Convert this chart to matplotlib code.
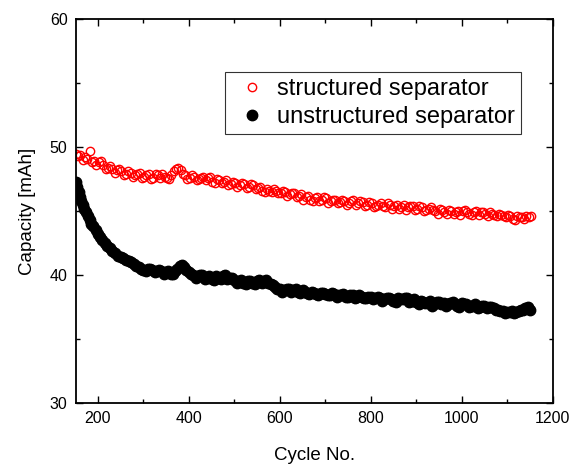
import matplotlib
matplotlib.use('Agg')
import matplotlib.pyplot as plt
import numpy as np
from matplotlib.ticker import MultipleLocator

plt.rcParams['font.family'] = ['Liberation Sans', 'DejaVu Sans']

# structured separator (open red circles)
cyc_struct = [152, 162, 172, 182, 192, 202, 212, 222, 232, 242,
              252, 262, 272, 282, 292, 302, 312, 322, 332, 342,
              352, 362, 372, 382, 392, 402, 412, 422, 432, 442,
              452, 462, 472, 482, 492, 502, 512, 522, 532, 542,
              552, 562, 572, 582, 592, 602, 612, 622, 632, 642,
              652, 662, 672, 682, 692, 702, 712, 722, 732, 742,
              752, 762, 772, 782, 792, 802, 812, 822, 832, 842,
              852, 862, 872, 882, 892, 902, 912, 922, 932, 942,
              952, 962, 972, 982, 992, 1002, 1012, 1022, 1032, 1042,
              1052, 1062, 1072, 1082, 1092, 1102, 1112, 1122, 1132, 1142,
              1152]
cap_struct = [49.5, 49.4, 49.2, 49.7, 48.9, 48.8, 48.6, 48.4, 48.3, 48.2,
              48.1, 47.9, 48.0, 47.8, 48.0, 47.7, 47.9, 47.6, 47.8, 47.9,
              47.6, 47.8, 48.3, 48.2, 47.8, 47.6, 47.7, 47.5, 47.7, 47.6,
              47.3, 47.5, 47.2, 47.4, 47.1, 47.2, 47.0, 47.1, 46.9, 47.0,
              46.8, 46.6, 46.7, 46.5, 46.6, 46.4, 46.5, 46.3, 46.4, 46.2,
              45.9, 46.2, 45.8, 46.1, 45.9, 46.0, 45.8, 45.9, 45.7, 45.8,
              45.6, 45.9, 45.6, 45.7, 45.5, 45.6, 45.4, 45.6, 45.3, 45.5,
              45.4, 45.2, 45.5, 45.3, 45.4, 45.2, 45.3, 45.1, 45.3, 45.0,
              45.2, 44.9, 45.1, 44.8, 45.0, 45.0, 44.9, 44.7, 45.0, 44.9,
              44.8, 44.9, 44.7, 44.8, 44.6, 44.7, 44.4, 44.6, 44.5, 44.6,
              44.6]
# in-between cycles 157, 167, ..., 1147
cyc_struct_b = list(range(157, 1148, 10))
cap_struct_b = [49.3, 49.0, 49.1, 48.8, 48.6, 48.9, 48.3, 48.5, 48.0, 48.3,
                47.8, 48.1, 47.7, 47.9, 47.6, 47.8, 47.5, 47.9, 47.6, 47.7,
                47.5, 48.1, 48.4, 47.9, 47.5, 47.8, 47.4, 47.6, 47.4, 47.7,
                47.2, 47.4, 47.3, 47.0, 47.3, 46.9, 47.2, 46.8, 47.1, 46.7,
                46.9, 46.5, 46.6, 46.7, 46.4, 46.6, 46.2, 46.4, 46.1, 46.3,
                46.1, 45.9, 46.0, 45.8, 46.1, 45.6, 45.9, 45.6, 45.9, 45.5,
                45.8, 45.5, 45.8, 45.4, 45.7, 45.3, 45.5, 45.4, 45.6, 45.2,
                45.5, 45.3, 45.1, 45.4, 45.1, 45.4, 45.0, 45.2, 45.1, 44.8,
                45.1, 44.8, 45.0, 44.9, 44.7, 45.1, 44.8, 44.9, 44.7, 44.9,
                44.6, 44.8, 44.6, 44.7, 44.5, 44.6, 44.3, 44.5, 44.4, 44.5]

# unstructured separator (filled black circles)
cyc_unstruct = [152, 155, 158, 161, 164, 167, 170, 174, 178, 182,
                186, 190, 195, 200, 205, 210, 215, 220, 226, 232,
                238, 244, 250, 256, 262, 268, 274, 280, 290, 300,
                310, 320, 330, 340, 350, 360, 370, 380, 390, 400,
                410, 420, 430, 440, 450, 460, 470, 480, 490, 500,
                510, 520, 530, 540, 550, 560, 570, 580, 590, 600,
                610, 620, 630, 640, 650, 660, 670, 680, 690, 700,
                710, 720, 730, 740, 750, 760, 770, 780, 790, 800,
                810, 820, 830, 840, 850, 860, 870, 880, 890, 900,
                910, 920, 930, 940, 950, 960, 970, 980, 990, 1000,
                1010, 1020, 1030, 1040, 1050, 1060, 1070, 1080, 1090, 1100,
                1110, 1120, 1130, 1140, 1150]
cap_unstruct = [47.3, 46.9, 46.5, 46.1, 45.8, 45.5, 45.2, 44.9, 44.6, 44.3,
                44.0, 43.8, 43.5, 43.2, 43.0, 42.7, 42.5, 42.3, 42.1, 41.9,
                41.7, 41.5, 41.4, 41.3, 41.2, 41.1, 41.0, 40.9, 40.6, 40.4,
                40.5, 40.4, 40.3, 40.3, 40.2, 40.1, 40.3, 40.7, 40.6, 40.2,
                40.0, 39.9, 40.0, 39.8, 39.7, 39.9, 39.7, 40.0, 39.8, 39.6,
                39.5, 39.4, 39.5, 39.4, 39.5, 39.4, 39.6, 39.3, 39.1, 38.9,
                38.8, 38.9, 38.8, 38.7, 38.8, 38.6, 38.7, 38.5, 38.6, 38.5,
                38.4, 38.5, 38.4, 38.5, 38.3, 38.4, 38.3, 38.3, 38.2, 38.3,
                38.2, 38.2, 38.1, 38.2, 38.0, 38.2, 38.1, 38.2, 38.0, 37.9,
                38.0, 37.8, 38.0, 37.7, 37.9, 37.8, 37.7, 37.9, 37.6, 37.8,
                37.7, 37.6, 37.7, 37.5, 37.6, 37.5, 37.4, 37.3, 37.2, 37.1,
                37.2, 37.1, 37.3, 37.4, 37.3]
# in-between cycles 285, 295, ..., 1145
cyc_unstruct_b = list(range(285, 1146, 10))
cap_unstruct_b = [40.7, 40.5, 40.3, 40.5, 40.2, 40.4, 40.1, 40.3, 40.1, 40.5,
                  40.8, 40.4, 40.1, 39.8, 40.0, 39.7, 39.9, 39.6, 39.8, 39.9,
                  39.7, 39.8, 39.4, 39.6, 39.3, 39.5, 39.3, 39.6, 39.5, 39.4,
                  39.2, 38.9, 38.7, 38.9, 38.7, 38.9, 38.6, 38.7, 38.5, 38.6,
                  38.4, 38.6, 38.4, 38.6, 38.3, 38.4, 38.3, 38.4, 38.2, 38.4,
                  38.2, 38.3, 38.1, 38.3, 38.0, 38.2, 38.1, 37.9, 38.1, 38.2,
                  37.9, 38.1, 37.7, 37.9, 37.8, 37.6, 37.9, 37.7, 37.6, 37.8,
                  37.7, 37.5, 37.7, 37.5, 37.6, 37.4, 37.6, 37.4, 37.5, 37.3,
                  37.2, 37.0, 37.1, 37.0, 37.2, 37.3, 37.5]

fig = plt.figure(figsize=(5.71, 4.68), dpi=100)
ax = fig.add_axes([0.133, 0.139, 0.835, 0.820])

red_style = dict(ls='none', marker='o', mfc='none', mec='red', mew=1.0, ms=6)
blk_style = dict(ls='none', marker='o', mfc='black', mec='black', ms=7.5)

ax.plot(cyc_struct_b, cap_struct_b, **red_style)
ax.plot(cyc_struct, cap_struct, label='structured separator', **red_style)
ax.plot(cyc_unstruct_b, cap_unstruct_b, **blk_style)
ax.plot(cyc_unstruct, cap_unstruct, label='unstructured separator', **blk_style)

ax.set_xlim(152, 1200)
ax.set_ylim(30, 60)
ax.xaxis.set_major_locator(MultipleLocator(200))
ax.xaxis.set_minor_locator(MultipleLocator(100))
ax.yaxis.set_major_locator(MultipleLocator(10))
ax.yaxis.set_minor_locator(MultipleLocator(5))
ax.tick_params(which='both', direction='in', top=True, right=True,
               labelsize=11.5, width=1.0)
ax.tick_params(which='major', length=5, pad=6)
ax.tick_params(which='minor', length=3)
for s in ax.spines.values():
    s.set_linewidth(1.3)

ax.set_xlabel('Cycle No.', fontsize=13.5, labelpad=15)
ax.set_ylabel('Capacity [mAh]', fontsize=13.5, labelpad=10)

leg = ax.legend(loc='upper right', bbox_to_anchor=(0.933, 0.862),
                fontsize=17, frameon=True, fancybox=False,
                handletextpad=0.2, borderpad=0.25, labelspacing=0.25,
                handlelength=1.75, borderaxespad=0)
leg.get_frame().set_edgecolor('black')
leg.get_frame().set_linewidth(0.8)

fig.savefig('out.png', dpi=100)
